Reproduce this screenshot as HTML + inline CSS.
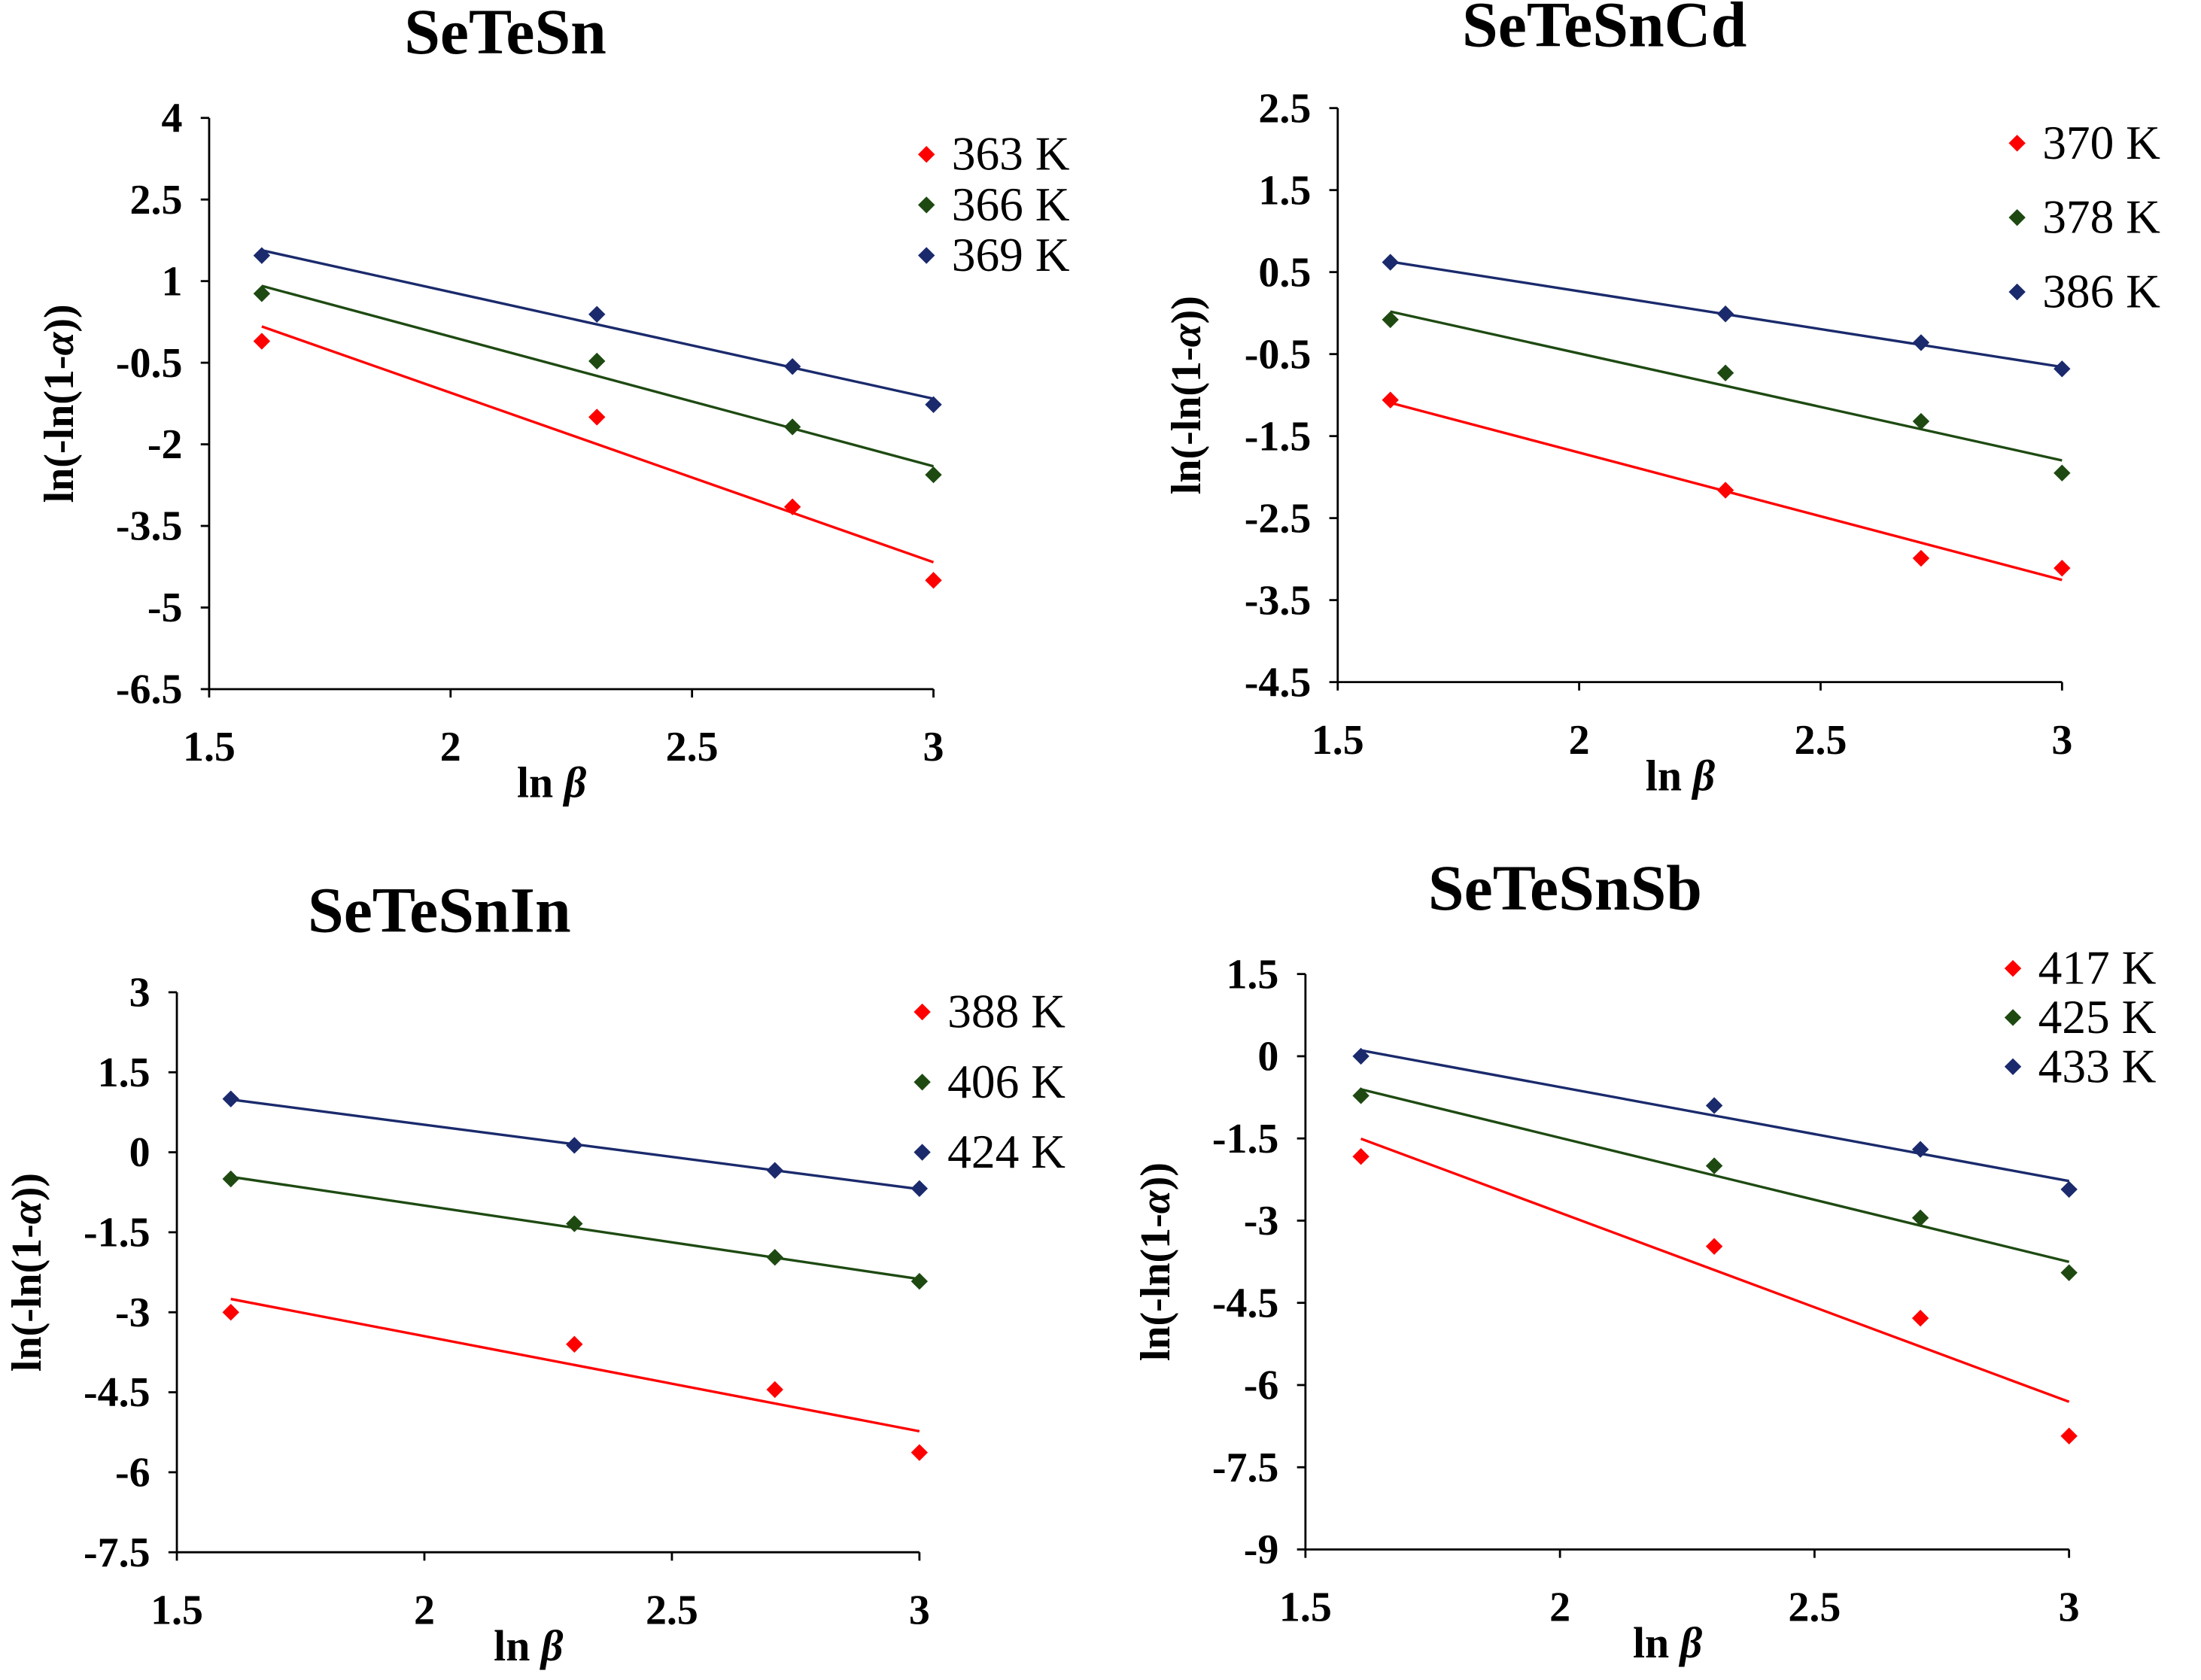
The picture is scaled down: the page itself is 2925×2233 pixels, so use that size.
<!DOCTYPE html>
<html><head><meta charset="utf-8">
<style>
html,body{margin:0;padding:0;background:#fff;}
svg{display:block;}
text{font-family:"Liberation Serif",serif;}
</style></head>
<body>
<svg id="chart" width="2925" height="2233" viewBox="0 0 1568 1197" xmlns="http://www.w3.org/2000/svg"></svg>
<script>
const xData = [1.609, 2.303, 2.708, 3.0];
const xTicks = [1.5, 2, 2.5, 3];
const xTickLabels = ["1.5", "2", "2.5", "3"];

const p1Titles = "SeTeSn";
const p1Labels = ["363 K", "366 K", "369 K"];
const p1Red = [-0.105, -1.50, -3.15, -4.50];
const p1Green = [0.77, -0.47, -1.68, -2.56];
const p1Blue = [1.47, 0.39, -0.57, -1.27];
const p1YTicks = [4, 2.5, 1, -0.5, -2, -3.5, -5, -6.5];

const p2Labels = ["370 K", "378 K", "386 K"];
const p2Red = [-1.06, -2.16, -2.99, -3.11];
const p2Green = [-0.08, -0.73, -1.32, -1.95];
const p2Blue = [0.62, -0.01, -0.36, -0.68];
const p2YTicks = [2.5, 1.5, 0.5, -0.5, -1.5, -2.5, -3.5, -4.5];

const p3Labels = ["388 K", "406 K", "424 K"];
const p3Red = [-3.0, -3.6, -4.45, -5.63];
const p3Green = [-0.5, -1.34, -1.97, -2.42];
const p3Blue = [1.0, 0.13, -0.34, -0.68];
const p3YTicks = [3, 1.5, 0, -1.5, -3, -4.5, -6, -7.5];

const p4Labels = ["417 K", "425 K", "433 K"];
const p4Red = [-1.83, -3.47, -4.78, -6.93];
const p4Green = [-0.72, -2.0, -2.95, -3.95];
const p4Blue = [0.0, -0.9, -1.7, -2.43];
const p4YTicks = [1.5, 0, -1.5, -3, -4.5, -6, -7.5, -9];

const COLORS = ["#ff0000", "#1e4a12", "#1a2a6c"];
const NS = "http://www.w3.org/2000/svg";
const svg = document.getElementById("chart");

function el(tag, attrs, parent, text) {
  const e = document.createElementNS(NS, tag);
  for (const k in attrs) e.setAttribute(k, attrs[k]);
  if (text !== undefined) e.textContent = text;
  parent.appendChild(e);
  return e;
}

function panel(cfg) {
  const g = el("g", {}, svg);
  
  
  const yMax = cfg.yTicks[0], yMin = cfg.yTicks[cfg.yTicks.length - 1];
  const sx = v => cfg.x0 + (v - 1.5) / 1.5 * (cfg.x1 - cfg.x0);
  const sy = v => cfg.yb + (v - yMin) / (yMax - yMin) * (cfg.yt - cfg.yb);
  const ax = el("path", {d:`M${cfg.x0},${cfg.yt} V${cfg.yb} H${cfg.x1}`, stroke:"#000", "stroke-width":1.5, fill:"none"}, g);
  
  
  cfg.yTicks.forEach(t => {
    const y = sy(t);
    el("line", {x1:cfg.x0-6, x2:cfg.x0, y1:y, y2:y, stroke:"#000", "stroke-width":1.5}, g);
    const tx = el("text", {x:cfg.x0-19, y:y+10, "text-anchor":"end", "font-size":30, "font-weight":"bold"}, g, String(t));
    
    
  });
  xTicks.forEach((t, i) => {
    const x = sx(t);
    el("line", {x1:x, x2:x, y1:cfg.yb, y2:cfg.yb+6, stroke:"#000", "stroke-width":1.5}, g);
    const tx = el("text", {x:x, y:cfg.yb+51, "text-anchor":"middle", "font-size":30, "font-weight":"bold"}, g, xTickLabels[i]);
    
    
  });
  const ti = el("text", {x:cfg.tx, y:cfg.ty, "text-anchor":"middle", "font-size":46, "font-weight":"bold"}, g, cfg.title);
  
  
  const xl = el("text", {x:(cfg.x0+cfg.x1)/2 - 14, y:cfg.yb+77, "text-anchor":"middle", "font-size":31, "font-weight":"bold"}, g);
  
  
  el("tspan", {}, xl, "ln ");
  el("tspan", {"font-style":"italic"}, xl, "β");
  const cy = (cfg.yt + cfg.yb) / 2;
  const yl = el("text", {x:0, y:0, transform:`translate(${cfg.ylx},${cy}) rotate(-90)`, "text-anchor":"middle", "font-size":30, "font-weight":"bold"}, g);
  
  
  el("tspan", {}, yl, "ln(-ln(1-");
  el("tspan", {"font-style":"italic"}, yl, "α");
  el("tspan", {}, yl, "))");
  cfg.series.forEach((ys, si) => {
    const n = xData.length;
    const mx = xData.reduce((a,b)=>a+b,0)/n, my = ys.reduce((a,b)=>a+b,0)/n;
    let sxy=0, sxx=0;
    for (let i=0;i<n;i++){ sxy+=(xData[i]-mx)*(ys[i]-my); sxx+=(xData[i]-mx)**2; }
    const m = sxy/sxx, b = my - m*mx;
    const fit = el("line", {x1:sx(xData[0]), y1:sy(m*xData[0]+b), x2:sx(xData[n-1]), y2:sy(m*xData[n-1]+b), stroke:COLORS[si], "stroke-width":1.8}, g);
    
    
    ys.forEach((v, i) => {
      const x = sx(xData[i]), y = sy(v);
      const pt = el("path", {d:`M${x},${y-6} L${x+6},${y} L${x},${y+6} L${x-6},${y} Z`, fill:COLORS[si]}, g);
      
      
    });
    const ly = cfg.legY[si];
    const lm = el("path", {d:`M${cfg.legX},${ly-6} L${cfg.legX+6},${ly} L${cfg.legX},${ly+6} L${cfg.legX-6},${ly} Z`, fill:COLORS[si]}, g);
    
    
    const lt = el("text", {x:cfg.legX+18, y:ly+11, "font-size":34}, g, cfg.labels[si]);
    
    
  });
}

panel({name:"panel-setesn", title:p1Titles, x0:149, x1:665, yt:84, yb:491, yTicks:p1YTicks, tx:360, ty:38, ylx:52,
  series:[p1Red,p1Green,p1Blue], labels:p1Labels, legX:660, legY:[110,146,182]});
panel({name:"panel-setesncd", title:"SeTeSnCd", x0:953, x1:1469, yt:77, yb:486, yTicks:p2YTicks, tx:1143, ty:33, ylx:855,
  series:[p2Red,p2Green,p2Blue], labels:p2Labels, legX:1437, legY:[102,155,208]});
panel({name:"panel-setesnin", title:"SeTeSnIn", x0:126, x1:655, yt:707, yb:1106, yTicks:p3YTicks, tx:313, ty:664, ylx:29,
  series:[p3Red,p3Green,p3Blue], labels:p3Labels, legX:657, legY:[721,771,821]});
panel({name:"panel-setesnsb", title:"SeTeSnSb", x0:930, x1:1474, yt:694, yb:1104, yTicks:p4YTicks, tx:1115, ty:648, ylx:833,
  series:[p4Red,p4Green,p4Blue], labels:p4Labels, legX:1434, legY:[690,725,760]});
</script>
</body></html>
